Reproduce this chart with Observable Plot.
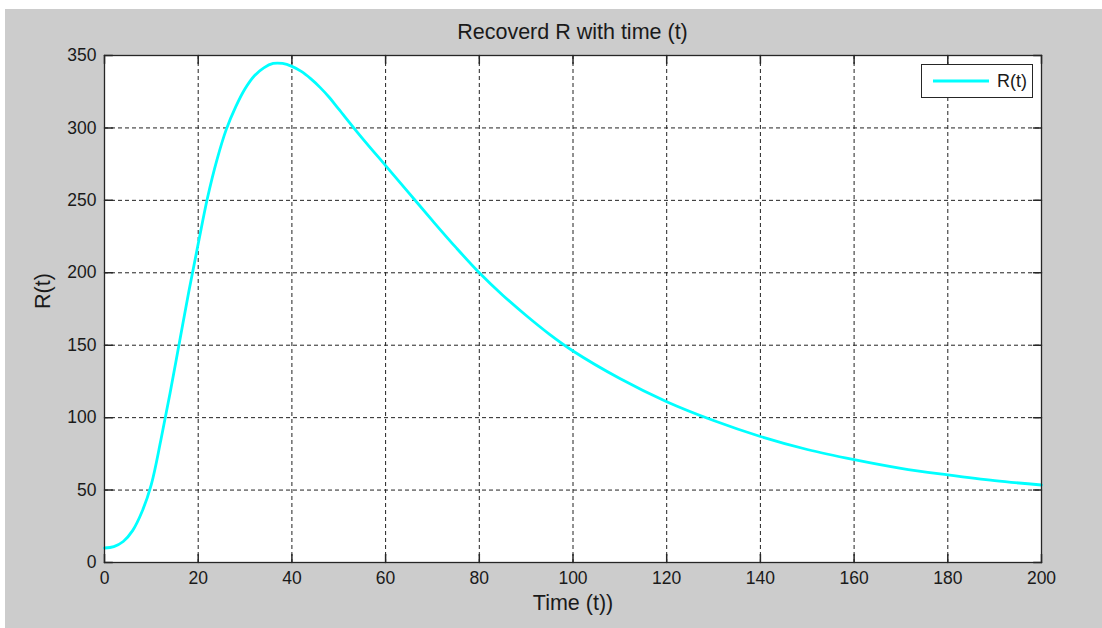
<!DOCTYPE html>
<html>
<head>
<meta charset="utf-8">
<script src="https://cdn.jsdelivr.net/npm/d3@7"></script>
<script src="https://cdn.jsdelivr.net/npm/@observablehq/plot@0.6"></script>
<style>
  html, body { margin: 0; padding: 0; background: #ffffff; }
  body { width: 1102px; height: 628px; position: relative; overflow: hidden; font-family: "Liberation Sans", Arial, sans-serif; }
  #panel { position: absolute; left: 5px; top: 9px; width: 1097px; height: 619px; background: #cccccc; }
  #title { position: absolute; left: 99px; width: 937px; top: 11px; height: 24px; line-height: 24px; text-align: center; font-size: 21.5px; color: #1a1a1a; }
  #chart { position: absolute; left: 0; top: 35px; }
  #legend { position: absolute; left: 916px; top: 55px; width: 110px; height: 32px; background: #ffffff; border: 1px solid #262626; display: flex; align-items: center; }
  #legend svg { margin-left: 11px; }
  #legend span { margin-left: 8px; font-size: 18px; color: #1a1a1a; }
</style>
</head>
<body>
<div id="panel">
  <div id="title">Recoverd R with time (t)</div>
  <div id="chart"></div>
  <div id="legend"><svg width="56" height="4"><line x1="0" x2="56" y1="2" y2="2" stroke="#00ffff" stroke-width="3"></line></svg><span>R(t)</span></div>
</div>
<script>
const tValues = [0, 2, 4, 6, 8, 10, 12, 14, 16, 18, 20, 22, 24, 26, 28, 30, 32, 34, 36, 38, 40, 42, 44, 46, 48, 50, 55, 60, 65, 70, 75, 80, 85, 90, 95, 100, 110, 120, 130, 140, 150, 160, 170, 180, 190, 200];
const rValues = [10, 11, 14.5, 22, 35, 54, 84, 117, 152, 187, 220, 252, 278, 299, 314.5, 327, 336, 341.5, 344.5, 344.5, 342.5, 339, 334, 328, 321, 313, 293, 274, 255, 236, 217.5, 200, 184.5, 170.5, 157.5, 146, 127, 111, 98, 87, 78, 71, 65, 60.5, 56.5, 53.5];
const xTicks = [0, 20, 40, 60, 80, 100, 120, 140, 160, 180, 200];
const yTicks = [0, 50, 100, 150, 200, 250, 300, 350];
const xLabel = "Time (t))";
const yLabel = "R(t)";

const data = tValues.map((t, i) => ({t, r: rValues[i]}));
const tickShape = {draw(context, l) { context.moveTo(0, 0); context.lineTo(0, -l); }};
const tickStroke = "#262626";

const chart = Plot.plot({
  width: 1097,
  height: 584,
  marginTop: 11,
  marginBottom: 66,
  marginLeft: 99,
  marginRight: 61,
  style: {background: "transparent", fontFamily: "'Liberation Sans', Arial, sans-serif", fontSize: "17px", color: "#1a1a1a"},
  x: {domain: [0, 200]},
  y: {domain: [0, 350]},
  marks: [
    Plot.frame({fill: "white", stroke: null}),
    Plot.gridX(xTicks, {stroke: "#222222", strokeOpacity: 1, strokeDasharray: "4,3"}),
    Plot.gridY(yTicks, {stroke: "#222222", strokeOpacity: 1, strokeDasharray: "4,3"}),
    Plot.line(data, {x: "t", y: "r", stroke: "#00ffff", strokeWidth: 2.8, curve: "catmull-rom"}),
    Plot.vector(xTicks, {x: d => d, frameAnchor: "bottom", length: 8, rotate: 0, anchor: "start", shape: tickShape, stroke: tickStroke}),
    Plot.vector(xTicks, {x: d => d, frameAnchor: "top", length: 8, rotate: 180, anchor: "start", shape: tickShape, stroke: tickStroke}),
    Plot.vector(yTicks, {y: d => d, frameAnchor: "left", length: 8, rotate: 90, anchor: "start", shape: tickShape, stroke: tickStroke}),
    Plot.vector(yTicks, {y: d => d, frameAnchor: "right", length: 8, rotate: -90, anchor: "start", shape: tickShape, stroke: tickStroke}),
    Plot.axisX(xTicks, {tickSize: 0, tickPadding: 9, label: null, fontSize: 17.5}),
    Plot.axisY(yTicks, {tickSize: 0, tickPadding: 8, label: null, fontSize: 17.5}),
    Plot.frame({stroke: tickStroke, strokeWidth: 1.3}),
    Plot.text([xLabel], {text: d => d, frameAnchor: "bottom", dy: 47, fontSize: 21.5, fill: "#1a1a1a"}),
    Plot.text([yLabel], {text: d => d, frameAnchor: "left", dx: -61, rotate: -90, fontSize: 21.5, fill: "#1a1a1a"})
  ]
});
document.getElementById("chart").appendChild(chart);
</script>
</body>
</html>
